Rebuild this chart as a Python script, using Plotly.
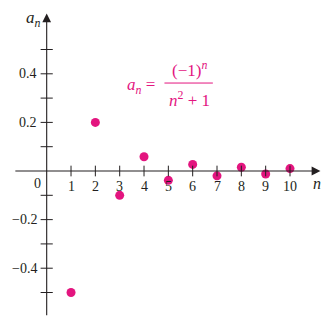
import plotly.graph_objects as go

n_values = [1, 2, 3, 4, 5, 6, 7, 8, 9, 10]
a_values = [-0.5, 0.2, -0.1, 0.0588, -0.0385, 0.027, -0.02, 0.0154, -0.0122, 0.0099]
y_tick_vals = [-0.5, -0.4, -0.3, -0.2, -0.1, 0.1, 0.2, 0.3, 0.4, 0.5]
y_label_vals = [-0.4, -0.2, 0.2, 0.4]
y_label_text = ["\u22120.4", "\u22120.2", "0.2", "0.4"]

PINK = "#E3157F"
AX = "#231F20"
FONT = "Liberation Serif"

fig = go.Figure()
fig.add_trace(go.Scatter(x=n_values, y=a_values, mode="markers",
                         marker=dict(size=9, color=PINK), hoverinfo="skip"))

shapes = []
for n in n_values:
    shapes.append(dict(type="line", xref="x", yref="y", x0=n, x1=n, y0=-0.022, y1=0.022,
                       line=dict(color=AX, width=1)))
for v in y_tick_vals:
    shapes.append(dict(type="line", xref="x", yref="y", x0=-0.25, x1=0.25, y0=v, y1=v,
                       line=dict(color=AX, width=1)))
# fraction bar
shapes.append(dict(type="line", xref="x", yref="y", x0=4.84, x1=6.83, y0=0.362, y1=0.362,
                   line=dict(color=PINK, width=1)))

ann = []
# axes with arrows
ann.append(dict(x=11.25, y=0, ax=-1.35, ay=0, xref="x", yref="y", axref="x", ayref="y",
                text="", showarrow=True, arrowhead=2, arrowsize=1.6, arrowwidth=1.1, arrowcolor=AX))
ann.append(dict(x=0, y=0.648, ax=0, ay=-0.6, xref="x", yref="y", axref="x", ayref="y",
                text="", showarrow=True, arrowhead=2, arrowsize=1.6, arrowwidth=1.1, arrowcolor=AX))
for n in n_values:
    ann.append(dict(x=n, y=-0.065, xref="x", yref="y", text=str(n), showarrow=False,
                    font=dict(family=FONT, size=14, color=AX)))
for v, t in zip(y_label_vals, y_label_text):
    ann.append(dict(x=-0.3, y=v, xref="x", yref="y", text=t, showarrow=False, xanchor="right",
                    font=dict(family=FONT, size=14, color=AX)))
ann.append(dict(x=-0.36, y=-0.05, xref="x", yref="y", text="0", showarrow=False,
                font=dict(family=FONT, size=14, color=AX)))
ann.append(dict(x=11.1, y=-0.05, xref="x", yref="y", text="<i>n</i>", showarrow=False,
                font=dict(family=FONT, size=16, color=AX)))
ann.append(dict(x=-0.55, y=0.625, xref="x", yref="y", text="<i>a<sub>n</sub></i>", showarrow=False,
                font=dict(family=FONT, size=17, color=AX)))
# formula
ann.append(dict(x=3.88, y=0.35, xref="x", yref="y", text="<i>a<sub>n</sub></i> =", showarrow=False,
                font=dict(family=FONT, size=17, color=PINK)))
ann.append(dict(x=5.85, y=0.418, xref="x", yref="y", text="(\u22121)<sup><i>n</i></sup>", showarrow=False,
                font=dict(family=FONT, size=17, color=PINK)))
ann.append(dict(x=5.85, y=0.298, xref="x", yref="y", text="<i>n</i><sup>2</sup> + 1", showarrow=False,
                font=dict(family=FONT, size=17, color=PINK)))

fig.update_layout(
    width=332, height=325, margin=dict(l=0, r=0, t=0, b=0),
    paper_bgcolor="white", plot_bgcolor="white", showlegend=False,
    xaxis=dict(range=[-1.919, 11.726], visible=False, fixedrange=True),
    yaxis=dict(range=[-0.6337, 0.7037], visible=False, fixedrange=True),
    shapes=shapes, annotations=ann,
)
fig.write_html("out.html")
